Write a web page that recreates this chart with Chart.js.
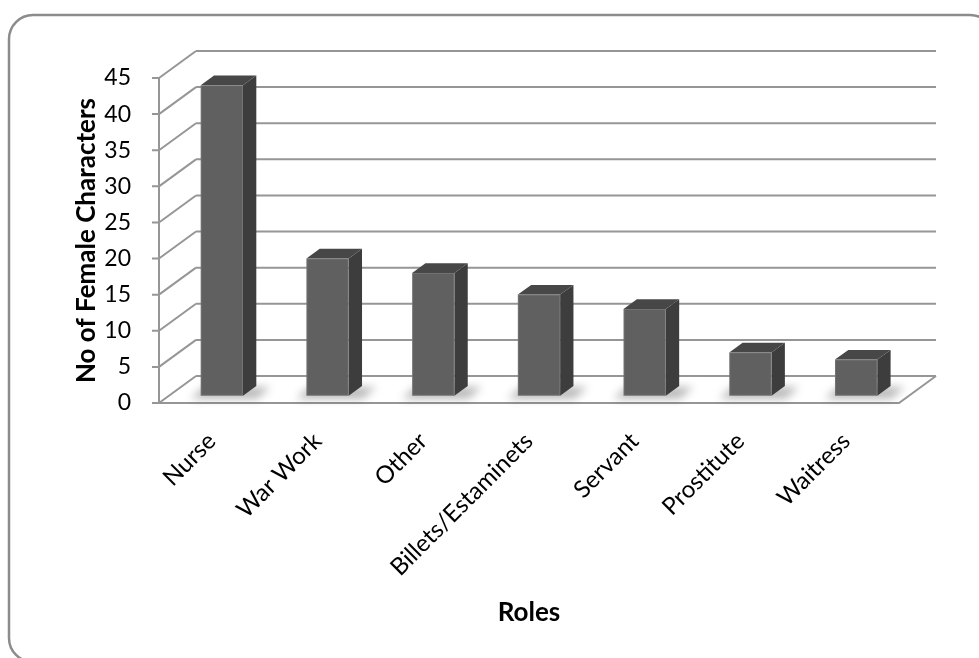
<!DOCTYPE html>
<html>
<head>
<meta charset="utf-8">
<script src="https://cdn.jsdelivr.net/npm/chart.js@4.4.1/dist/chart.umd.min.js"></script>
<style>
  html, body { margin: 0; padding: 0; background: #fff; }
  canvas { display: block; }
</style>
</head>
<body>
<canvas id="rolesChart" width="979" height="658"></canvas>
<script>
const roles = ["Nurse", "War Work", "Other", "Billets/Estaminets", "Servant", "Prostitute", "Waitress"];
const femaleCharacters = [43, 19, 17, 14, 12, 6, 5];
const yMin = 0;
const yMax = 45;
const yStep = 5;

// oblique "3d" look: how far the back wall sits from the front plane
const DEPTH_X = 37;
const DEPTH_Y = -27;
const BAR_FRONT = 0.27;  // bar front face, as share of the depth
const BAR_DEPTH = 0.36;  // bar thickness, as share of the depth

const FONT = "Lato, 'Open Sans', sans-serif";
const GRID = "#969696";

function roundRect(ctx, x, y, w, h, r) {
  ctx.beginPath();
  ctx.moveTo(x + r, y);
  ctx.lineTo(x + w - r, y);
  ctx.arcTo(x + w, y, x + w, y + r, r);
  ctx.lineTo(x + w, y + h - r);
  ctx.arcTo(x + w, y + h, x + w - r, y + h, r);
  ctx.lineTo(x + r, y + h);
  ctx.arcTo(x, y + h, x, y + h - r, r);
  ctx.lineTo(x, y + r);
  ctx.arcTo(x, y, x + r, y, r);
  ctx.closePath();
}

function poly(ctx, pts, fill) {
  ctx.beginPath();
  ctx.moveTo(pts[0][0], pts[0][1]);
  for (let i = 1; i < pts.length; i++) ctx.lineTo(pts[i][0], pts[i][1]);
  ctx.closePath();
  ctx.fillStyle = fill;
  ctx.fill();
}

const fake3d = {
  id: "fake3d",
  beforeDraw(chart) {
    const ctx = chart.ctx;
    ctx.save();
    ctx.fillStyle = "#fff";
    ctx.fillRect(0, 0, chart.width, chart.height);
    roundRect(ctx, 9, 15, 985, 647, 24);
    ctx.strokeStyle = "#8c8c8c";
    ctx.lineWidth = 2.5;
    ctx.stroke();
    ctx.restore();
  },
  beforeDatasetsDraw(chart) {
    const ctx = chart.ctx;
    const { left, right, top, bottom } = chart.chartArea;
    const y = chart.scales.y;
    ctx.save();
    ctx.strokeStyle = GRID;
    ctx.lineWidth = 2;
    ctx.lineCap = "butt";
    ctx.beginPath();
    y.ticks.forEach((t) => {
      const py = y.getPixelForValue(t.value);
      ctx.moveTo(left + DEPTH_X, py + DEPTH_Y);
      ctx.lineTo(right + DEPTH_X, py + DEPTH_Y);
      ctx.moveTo(left, py);
      ctx.lineTo(left + DEPTH_X, py + DEPTH_Y);
      ctx.moveTo(left - 7, py);
      ctx.lineTo(left, py);
    });
    ctx.moveTo(left, top);
    ctx.lineTo(left, bottom);
    ctx.moveTo(left, bottom);
    ctx.lineTo(right, bottom);
    ctx.lineTo(right + DEPTH_X, bottom + DEPTH_Y);
    ctx.stroke();

    // soft shadows on the floor
    const meta = chart.getDatasetMeta(0);
    const ox = DEPTH_X * BAR_FRONT, oy = DEPTH_Y * BAR_FRONT;
    const bx = DEPTH_X * BAR_DEPTH, by = DEPTH_Y * BAR_DEPTH;
    ctx.filter = "blur(4px)";
    meta.data.forEach((bar) => {
      const x1 = bar.x - bar.width / 2 + ox - 10;
      const x2 = bar.x + bar.width / 2 + ox + 14;
      const b = bar.base + oy + 3;
      poly(ctx, [[x1, b], [x2, b], [x2 + bx, b + by - 2], [x1 + bx, b + by - 2]], "rgba(0,0,0,0.28)");
    });
    ctx.filter = "none";
    ctx.restore();
  },
  afterDatasetsDraw(chart) {
    const ctx = chart.ctx;
    const meta = chart.getDatasetMeta(0);
    const ox = DEPTH_X * BAR_FRONT, oy = DEPTH_Y * BAR_FRONT;
    const bx = DEPTH_X * BAR_DEPTH, by = DEPTH_Y * BAR_DEPTH;
    ctx.save();
    meta.data.forEach((bar) => {
      const x1 = bar.x - bar.width / 2 + ox;
      const x2 = bar.x + bar.width / 2 + ox;
      const t = bar.y + oy;
      const b = bar.base + oy;
      // side
      poly(ctx, [[x2, t], [x2 + bx, t + by], [x2 + bx, b + by], [x2, b]], "#3d3d3d");
      // top
      poly(ctx, [[x1, t], [x1 + bx, t + by], [x2 + bx, t + by], [x2, t]], "#474747");
      // front
      poly(ctx, [[x1, t], [x2, t], [x2, b], [x1, b]], "#606060");
      ctx.strokeStyle = "rgba(255,255,255,0.12)";
      ctx.lineWidth = 1;
      ctx.strokeRect(x1 + 0.5, t + 0.5, x2 - x1 - 1, b - t - 1);
    });
    ctx.restore();
  },
};

new Chart(document.getElementById("rolesChart"), {
  type: "bar",
  data: {
    labels: roles,
    datasets: [{
      label: "No of Female Characters",
      data: femaleCharacters,
      backgroundColor: "rgba(0,0,0,0)",
      borderWidth: 0,
      barPercentage: 0.4,
      categoryPercentage: 1,
    }],
  },
  options: {
    responsive: false,
    animation: false,
    events: [],
    layout: { padding: { left: 0, right: 80, top: 78, bottom: 0 } },
    plugins: { legend: { display: false }, tooltip: { enabled: false } },
    scales: {
      x: {
        grid: { display: false, drawTicks: false },
        border: { display: false },
        ticks: {
          color: "#000",
          font: { family: FONT, size: 24 },
          minRotation: 45,
          maxRotation: 45,
          autoSkip: false,
          padding: 24,
        },
        title: {
          display: true,
          text: "Roles",
          color: "#000",
          font: { family: FONT, size: 26, weight: "bold" },
          padding: { top: 0, bottom: 30 },
        },
        afterFit: (s) => { s.height = 255; },
      },
      y: {
        min: yMin,
        max: yMax,
        grid: { display: false, drawTicks: false },
        border: { display: false },
        ticks: {
          stepSize: yStep,
          color: "#000",
          font: { family: FONT, size: 23 },
          padding: 28,
        },
        title: {
          display: true,
          text: "No of Female Characters",
          color: "#000",
          font: { family: FONT, size: 26, weight: "bold" },
          padding: { top: 71, bottom: 0 },
        },
        afterFit: (s) => { s.width = 159; },
      },
    },
  },
  plugins: [fake3d],
});
</script>
</body>
</html>
